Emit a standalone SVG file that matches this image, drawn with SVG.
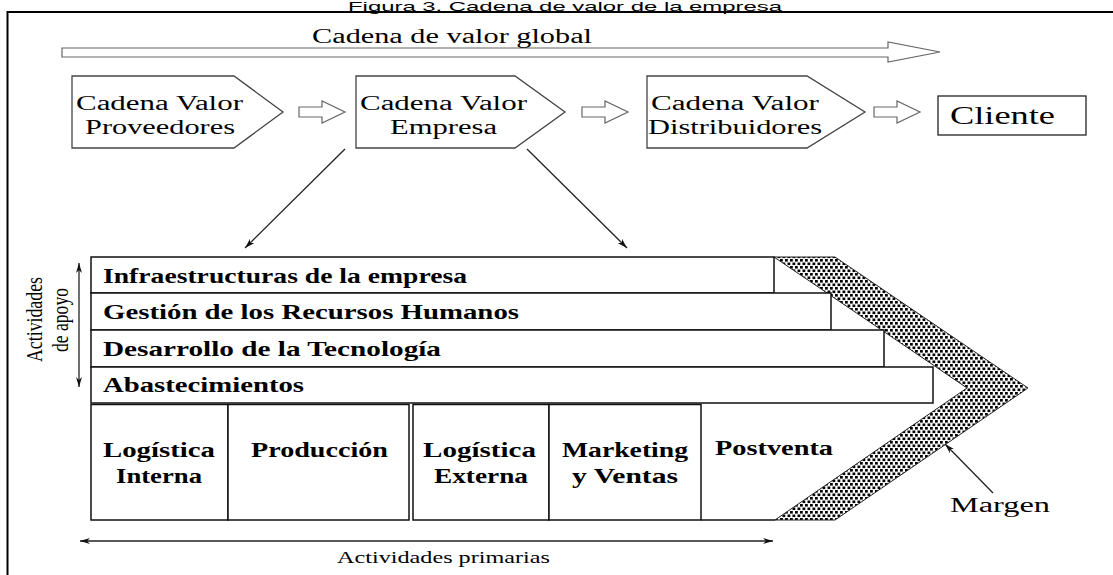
<svg xmlns="http://www.w3.org/2000/svg" width="1113" height="575" viewBox="0 0 1113 575">
<style>
.s{font-family:"Liberation Serif","Times New Roman",serif;fill:#000}
.b{font-weight:bold}
.pent{fill:#fff;stroke:#444;stroke-width:1.3}
.harrow{fill:#fff;stroke:#666;stroke-width:1.2}
.box{fill:#fff;stroke:#111;stroke-width:1.5}
.ln{stroke:#222;stroke-width:1.3;fill:none}
</style>
<defs>
<pattern id="dots" patternUnits="userSpaceOnUse" width="5" height="7">
<rect width="5" height="7" fill="#fff"/>
<rect x="0" y="0" width="2.8" height="2.6" fill="#000"/>
<rect x="2.5" y="3.5" width="2.8" height="2.6" fill="#000"/>
<rect x="-2.5" y="3.5" width="2.8" height="2.6" fill="#000"/>
</pattern>
<marker id="ah" viewBox="0 0 10 6" refX="10" refY="3" markerWidth="10" markerHeight="6" markerUnits="userSpaceOnUse" orient="auto-start-reverse">
<path d="M0,0 L10,3 L0,6 L3,3 z" fill="#111"/>
</marker>
</defs>
<rect width="1113" height="575" fill="#fff"/>
<text x="348" y="11" font-family="Liberation Sans, Arial, sans-serif" font-size="13" textLength="434" lengthAdjust="spacingAndGlyphs">Figura 3. Cadena de valor de la empresa</text>
<path d="M7.5,575 V12 H1113" fill="none" stroke="#000" stroke-width="2"/>

<g id="global">
<path class="harrow" d="M62,48 H888 V42 L940,52 L888,62 V57 H62 Z"/>
<text class="s" x="312" y="43" font-size="20" textLength="280" lengthAdjust="spacingAndGlyphs">Cadena de valor global</text>
</g>

<g id="proveedores">
<path class="pent" d="M72,76 H234 L283,112 L234,148 H72 Z"/>
<text class="s" x="76" y="110" font-size="20" textLength="167" lengthAdjust="spacingAndGlyphs">Cadena Valor</text>
<text class="s" x="85" y="134" font-size="20" textLength="150" lengthAdjust="spacingAndGlyphs">Proveedores</text>
</g>
<g id="empresa">
<path class="pent" d="M356,76 H515 L565,112 L515,148 H356 Z"/>
<text class="s" x="360" y="110" font-size="20" textLength="167" lengthAdjust="spacingAndGlyphs">Cadena Valor</text>
<text class="s" x="390" y="134" font-size="20" textLength="107" lengthAdjust="spacingAndGlyphs">Empresa</text>
</g>
<g id="distribuidores">
<path class="pent" d="M647,76 H807 L865,112 L807,148 H647 Z"/>
<text class="s" x="651" y="110" font-size="20" textLength="168" lengthAdjust="spacingAndGlyphs">Cadena Valor</text>
<text class="s" x="648" y="134" font-size="20" textLength="174" lengthAdjust="spacingAndGlyphs">Distribuidores</text>
</g>
<g id="cliente">
<rect x="938" y="96" width="148" height="39" fill="#fff" stroke="#222" stroke-width="1.3"/>
<text class="s" x="950" y="124" font-size="26" textLength="105" lengthAdjust="spacingAndGlyphs">Cliente</text>
</g>

<g id="connectors">
<path class="harrow" d="M299,107 H322 V101 L345,112 L322,123 V117 H299 Z"/>
<path class="harrow" d="M582,107 H605 V101 L628,112 L605,123 V117 H582 Z"/>
<path class="harrow" d="M874,107 H897 V101 L920,112 L897,123 V117 H874 Z"/>
<line class="ln" x1="345" y1="149" x2="245" y2="248" marker-end="url(#ah)"/>
<line class="ln" x1="527" y1="149" x2="627" y2="248" marker-end="url(#ah)"/>
<line class="ln" x1="79" y1="263" x2="79" y2="387" marker-start="url(#ah)" marker-end="url(#ah)"/>
<line class="ln" x1="80" y1="541" x2="773" y2="541" marker-start="url(#ah)" marker-end="url(#ah)"/>
<line class="ln" x1="993" y1="493" x2="945" y2="444" marker-end="url(#ah)"/>
</g>

<g id="margen">
<path d="M774,257 H835 L1028,388 L835,520 H775 L967,388 Z" fill="url(#dots)" stroke="#222" stroke-width="1"/>
<text class="s" x="950" y="512" font-size="20" textLength="100" lengthAdjust="spacingAndGlyphs">Margen</text>
</g>

<g id="infraestructuras">
<rect class="box" x="91" y="257" width="683" height="36"/>
<text class="s b" x="103" y="283" font-size="21" textLength="364" lengthAdjust="spacingAndGlyphs">Infraestructuras de la empresa</text>
</g>
<g id="rrhh">
<rect class="box" x="91" y="293" width="740" height="37"/>
<text class="s b" x="103" y="319" font-size="21" textLength="416" lengthAdjust="spacingAndGlyphs">Gestión de los Recursos Humanos</text>
</g>
<g id="tecnologia">
<rect class="box" x="91" y="330" width="793" height="37"/>
<text class="s b" x="103" y="356" font-size="21" textLength="338" lengthAdjust="spacingAndGlyphs">Desarrollo de la Tecnología</text>
</g>
<g id="abastecimientos">
<rect class="box" x="91" y="367" width="842" height="36"/>
<text class="s b" x="103" y="392" font-size="21" textLength="201" lengthAdjust="spacingAndGlyphs">Abastecimientos</text>
</g>

<g id="log-interna">
<rect class="box" x="91" y="404.5" width="137" height="115.5"/>
<text class="s b" x="103" y="457" font-size="21" textLength="112" lengthAdjust="spacingAndGlyphs">Logística</text>
<text class="s b" x="116" y="483" font-size="21" textLength="86" lengthAdjust="spacingAndGlyphs">Interna</text>
</g>
<g id="produccion">
<rect class="box" x="228" y="404.5" width="181" height="115.5"/>
<text class="s b" x="251" y="457" font-size="21" textLength="137" lengthAdjust="spacingAndGlyphs">Producción</text>
</g>
<g id="log-externa">
<rect class="box" x="413" y="404.5" width="136" height="115.5"/>
<text class="s b" x="423" y="457" font-size="21" textLength="113" lengthAdjust="spacingAndGlyphs">Logística</text>
<text class="s b" x="434" y="483" font-size="21" textLength="94" lengthAdjust="spacingAndGlyphs">Externa</text>
</g>
<g id="marketing">
<rect class="box" x="549" y="404.5" width="152" height="115.5"/>
<text class="s b" x="562" y="457" font-size="21" textLength="126" lengthAdjust="spacingAndGlyphs">Marketing</text>
<text class="s b" x="572" y="483" font-size="21" textLength="106" lengthAdjust="spacingAndGlyphs">y Ventas</text>
</g>
<g id="postventa">
<line x1="701" y1="520" x2="775" y2="520" stroke="#111" stroke-width="1.5"/>
<text class="s b" x="715" y="455" font-size="21" textLength="118" lengthAdjust="spacingAndGlyphs">Postventa</text>
</g>

<g id="labels">
<text class="s" fill="#222" transform="translate(42,362) rotate(-90) scale(1,1.4)" font-size="17" textLength="85" lengthAdjust="spacingAndGlyphs">Actividades</text>
<text class="s" fill="#222" transform="translate(68,352) rotate(-90) scale(1,1.4)" font-size="17" textLength="64" lengthAdjust="spacingAndGlyphs">de apoyo</text>
<text class="s" x="337" y="563" font-size="17" textLength="213" lengthAdjust="spacingAndGlyphs">Actividades primarias</text>
</g>
</svg>
